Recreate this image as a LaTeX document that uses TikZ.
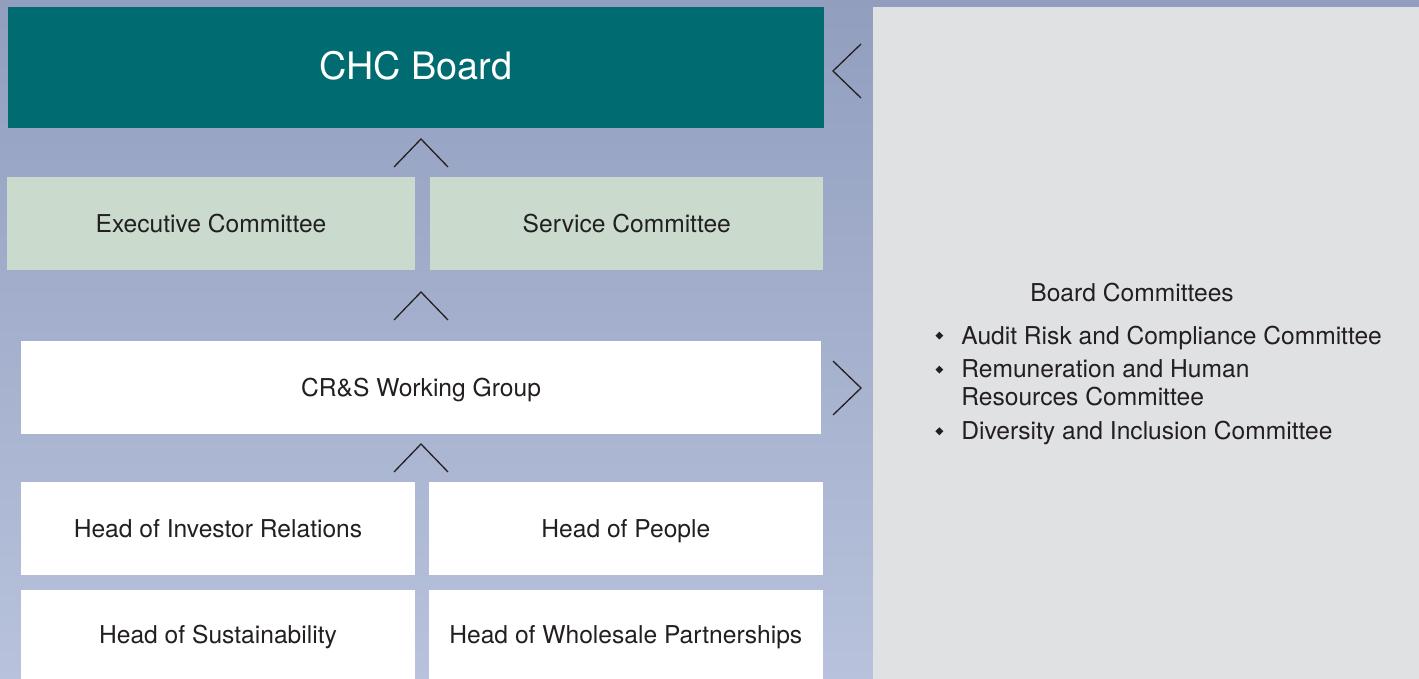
\documentclass[tikz,border=0pt]{standalone}
\usepackage{fontspec}
\setmainfont{TeX Gyre Heros}
\usepackage{graphicx}
\usetikzlibrary{positioning}

\definecolor{ink}{HTML}{231F20}
\definecolor{chcteal}{HTML}{006B70}
\definecolor{commgreen}{HTML}{CADBCE}
\definecolor{bgtop}{HTML}{919EBE}
\definecolor{bgbot}{HTML}{B8C2DC}
\definecolor{panelgrey}{HTML}{E0E1E3}

% small filled diamond for the committee list
\newcommand{\dia}{\raisebox{2.2pt}{\rotatebox{45}{\rule{2.8pt}{2.8pt}}}}

\begin{document}
\begin{tikzpicture}[x=0.5pt, y=-0.5pt,
    box/.style = {inner sep=0pt, minimum width=197pt, minimum height=46.5pt,
        text height=8.9pt, text depth=0pt, text=ink,
        font=\fontsize{12.3}{14}\selectfont},
    board/.style = {box, fill=chcteal, text=white, minimum width=408pt,
        minimum height=60.5pt, text height=13.6pt, text depth=1.6pt,
        font=\fontsize{18.9}{22}\selectfont},
    comm/.style = {box, fill=commgreen},
    head/.style = {box, fill=white},
    chev/.style = {draw=ink, line width=0.65pt},
    upmark/.pic = {\draw[chev] (-27,14) -- (0,-14) -- (27,14);},
    leftmark/.pic = {\draw[chev] (28,-27) -- (0,0) -- (28,27);},
    rightmark/.pic = {\draw[chev] (-28,-27) -- (0,0) -- (-28,27);}]
    \useasboundingbox (0,0) rectangle (1419,679);
    \shade[top color=bgtop, bottom color=bgbot] (0,0) rectangle (1419,679);

    % left column
    \node[board](board) at (416,67.5) {CHC Board};
    \node[comm, minimum width=204pt](exec) at (211,223.5) {Executive Committee};
    \node[comm, minimum width=196.5pt](svc)[right=7.25pt of exec] {Service Committee};
    \node[head, minimum width=400pt](crs) at (421,387.5) {CR\&S Working Group};
    \node[head](hir) at (218,528.5) {Head of Investor Relations};
    \node[head](hp)[right=6.5pt of hir] {Head of People};
    \node[head, minimum height=45pt](hs)[below=7pt of hir] {Head of Sustainability};
    \node[head, minimum height=45pt](hwp)[right=6.5pt of hs] {Head of Wholesale Partnerships};

    \pic at (421,153) {upmark};
    \pic at (421,306) {upmark};
    \pic at (421,458) {upmark};

    % board committees
    \node[fill=panelgrey, minimum width=273pt, minimum height=336pt, inner sep=0pt](panel) at (1146,343) {};
    \pic at (833,71) {leftmark};
    \pic at (861,388) {rightmark};
    \node[anchor=base west, inner sep=0pt, text=ink, font=\fontsize{12.3}{14}\selectfont](bc) at (1030,302) {Board Committees};
    \node[anchor=base west, inner sep=0pt, text=ink, font=\fontsize{12.3}{13.8}\selectfont](list) at (935,344) {%
        \begin{tabular}[t]{@{}l@{\hspace{9pt}}l@{}}
        \dia & Audit Risk and Compliance Committee\\[3.2pt]
        \dia & Remuneration and Human\\
             & Resources Committee\\[3.2pt]
        \dia & Diversity and Inclusion Committee
        \end{tabular}};
\end{tikzpicture}
\end{document}
